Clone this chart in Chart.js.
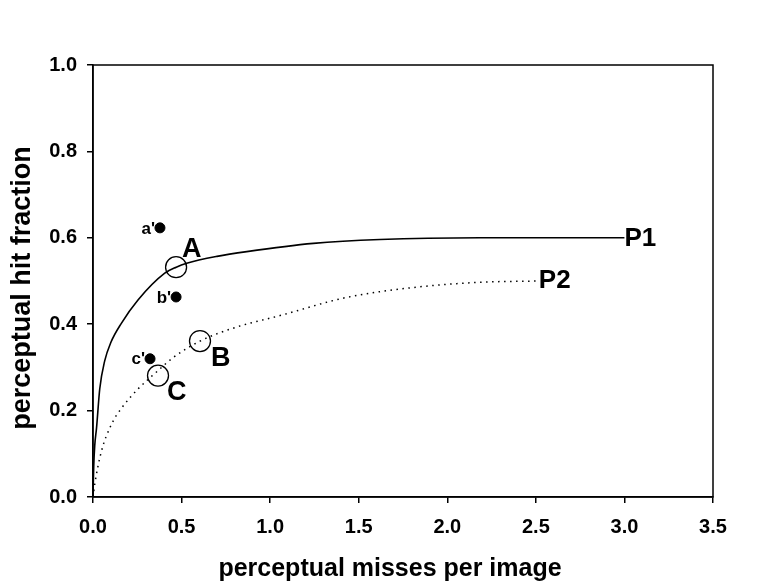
<!DOCTYPE html>
<html>
<head>
<meta charset="utf-8">
<script src="https://cdn.jsdelivr.net/npm/chart.js@4"></script>
<style>
  body { margin: 0; background: #fff; }
  #wrap { width: 775px; height: 587px; }
</style>
</head>
<body>
<div id="wrap"><canvas id="chart"></canvas></div>
<script>
// curve P1 (solid)
const p1X = [0, 0.004, 0.01, 0.02, 0.038, 0.066, 0.1, 0.16, 0.254, 0.405, 0.47, 0.529, 0.7, 0.868, 1.244, 1.62, 2.185, 3.0];
const p1Y = [0, 0.07, 0.12, 0.16, 0.25, 0.315, 0.357, 0.402, 0.456, 0.518, 0.532, 0.541, 0.557, 0.568, 0.587, 0.596, 0.6, 0.6];

// curve P2 (dotted)
const p2X = [0, 0.01, 0.047, 0.104, 0.16, 0.254, 0.36, 0.45, 0.6, 0.8, 1.056, 1.432, 1.809, 2.185, 2.5];
const p2Y = [0, 0.03, 0.105, 0.168, 0.205, 0.25, 0.29, 0.322, 0.36, 0.392, 0.42, 0.462, 0.485, 0.497, 0.5];

// open circles A, B, C
const openLabels = ['A', 'B', 'C'];
const openX = [0.469, 0.604, 0.367];
const openY = [0.532, 0.361, 0.281];

// filled dots a', b', c'
const dotLabels = ["a'", "b'", "c'"];
const dotX = [0.378, 0.469, 0.322];
const dotY = [0.623, 0.463, 0.32];

const curveLabels = ['P1', 'P2'];

const xTicks = [0, 0.5, 1.0, 1.5, 2.0, 2.5, 3.0, 3.5];
const yTicks = [0, 0.2, 0.4, 0.6, 0.8, 1.0];

const xTitle = 'perceptual misses per image';
const yTitle = 'perceptual hit fraction';

const FONT = 'Arial, "Liberation Sans", sans-serif';

function toPts(xs, ys) {
  return xs.map((x, i) => ({ x: x, y: ys[i] }));
}

const frame = {
  id: 'frame',
  afterDraw(chart) {
    const ctx = chart.ctx;
    const a = chart.chartArea;
    ctx.save();
    ctx.strokeStyle = '#000';
    ctx.lineWidth = 1.5;
    ctx.strokeRect(a.left, a.top, a.right - a.left, a.bottom - a.top);

    // axis titles, placed a little off-centre like the original
    ctx.fillStyle = '#000';
    ctx.textAlign = 'center';
    ctx.textBaseline = 'middle';
    ctx.font = 'bold 25px ' + FONT;
    ctx.fillText(xTitle, (a.left + a.right) / 2 - 13, 569);
    ctx.translate(23, (a.top + a.bottom) / 2 + 7);
    ctx.rotate(-Math.PI / 2);
    ctx.font = 'bold 27px ' + FONT;
    ctx.fillText(yTitle, 0, 0);
    ctx.restore();
  }
};

const labels = {
  id: 'labels',
  afterDatasetsDraw(chart) {
    const ctx = chart.ctx;
    const xs = chart.scales.x, ys = chart.scales.y;
    ctx.save();
    ctx.fillStyle = '#000';
    ctx.textBaseline = 'middle';

    // A, B, C
    ctx.font = 'bold 27px ' + FONT;
    ctx.textAlign = 'left';
    const offs = [[6, -18], [11, 17], [9, 17]];
    openLabels.forEach((t, i) => {
      ctx.fillText(t, xs.getPixelForValue(openX[i]) + offs[i][0], ys.getPixelForValue(openY[i]) + offs[i][1]);
    });

    // a', b', c'
    ctx.font = 'bold 17px ' + FONT;
    ctx.textAlign = 'right';
    dotLabels.forEach((t, i) => {
      ctx.fillText(t, xs.getPixelForValue(dotX[i]) - 5, ys.getPixelForValue(dotY[i]) + 1);
    });

    // P1, P2 at curve ends
    ctx.font = 'bold 26px ' + FONT;
    ctx.textAlign = 'left';
    const ends = [[p1X[p1X.length - 1], p1Y[p1Y.length - 1]], [p2X[p2X.length - 1], p2Y[p2Y.length - 1]]];
    const endOffs = [[0, 1], [3, 0]];
    curveLabels.forEach((t, i) => {
      ctx.fillText(t, xs.getPixelForValue(ends[i][0]) + endOffs[i][0], ys.getPixelForValue(ends[i][1]) + endOffs[i][1]);
    });
    ctx.restore();
  }
};

new Chart(document.getElementById('chart'), {
  type: 'scatter',
  data: {
    datasets: [
      {
        data: toPts(p1X, p1Y),
        showLine: true,
        borderColor: '#000',
        borderWidth: 1.6,
        pointRadius: 0,
        cubicInterpolationMode: 'monotone'
      },
      {
        data: toPts(p2X, p2Y),
        showLine: true,
        borderColor: '#000',
        borderWidth: 1.5,
        borderDash: [1.5, 4.5],
        pointRadius: 0,
        cubicInterpolationMode: 'monotone'
      },
      {
        data: toPts(dotX, dotY),
        pointRadius: 5,
        backgroundColor: '#000',
        borderColor: '#000'
      },
      {
        data: toPts(openX, openY),
        pointRadius: 10.5,
        backgroundColor: '#fff',
        borderColor: '#000',
        borderWidth: 1.3
      }
    ]
  },
  options: {
    responsive: true,
    maintainAspectRatio: false,
    animation: false,
    layout: { padding: { top: 65, right: 62, left: 0, bottom: 0 } },
    plugins: {
      legend: { display: false },
      tooltip: { enabled: false }
    },
    scales: {
      x: {
        type: 'linear',
        min: 0,
        max: 3.5,
        afterBuildTicks: s => { s.ticks = xTicks.map(v => ({ value: v })); },
        afterFit: s => { s.height = 90; },
        grid: { drawOnChartArea: false, drawTicks: true, tickLength: 6, color: '#000', lineWidth: 1.5 },
        border: { display: true, color: '#000', width: 1.5 },
        ticks: {
          color: '#000',
          padding: 12,
          font: { family: FONT, size: 20, weight: 'bold' },
          callback: v => v.toFixed(1)
        }
      },
      y: {
        type: 'linear',
        min: 0,
        max: 1,
        afterBuildTicks: s => { s.ticks = yTicks.map(v => ({ value: v })); },
        afterFit: s => { s.width = 93; },
        grid: { drawOnChartArea: false, drawTicks: true, tickLength: 6, color: '#000', lineWidth: 1.5 },
        border: { display: true, color: '#000', width: 1.5 },
        ticks: {
          color: '#000',
          padding: 10,
          font: { family: FONT, size: 20, weight: 'bold' },
          callback: v => v.toFixed(1)
        }
      }
    }
  },
  plugins: [frame, labels]
});
</script>
</body>
</html>
